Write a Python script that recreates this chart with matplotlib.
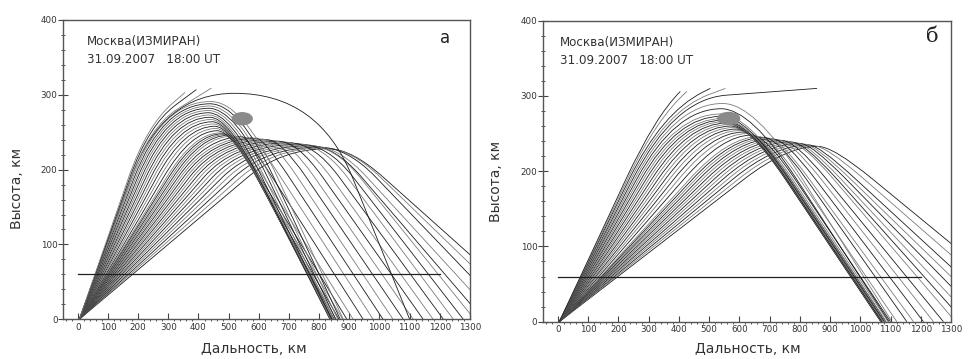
import matplotlib
matplotlib.use("Agg")
import matplotlib.pyplot as plt
from matplotlib.path import Path
from matplotlib.patches import PathPatch, Ellipse
from matplotlib.ticker import MultipleLocator

plt.rcParams['font.family'] = ['DejaVu Sans']

# ---------------- data: panel a ----------------
a_up   = [0.34, 0.355, 0.37, 0.385, 0.40, 0.415, 0.43, 0.445, 0.46, 0.475, 0.49, 0.505,
          0.52, 0.535, 0.55, 0.565, 0.58, 0.595, 0.61, 0.625, 0.64, 0.655,
          0.68, 0.71, 0.74, 0.77, 0.80, 0.83, 0.86, 0.89, 0.92, 0.95, 0.98, 1.01, 1.04, 1.07,
          1.10]
a_top  = [228, 229, 230, 231, 232, 233, 234, 235, 236, 237, 238, 239,
          240, 241, 242, 243, 244, 245, 246, 247, 248, 249,
          252, 255, 258, 261, 264, 267, 270, 273, 276, 279, 282, 285, 288, 291,
          302]
a_apx  = [830, 815, 800, 785, 770, 755, 735, 718, 700, 682, 664, 646,
          628, 610, 592, 574, 545, 515, 500, 490, 480, 470,
          462, 458, 454, 450, 446, 442, 438, 436, 434, 434, 434, 436, 438, 440,
          520]
a_land = [1540, 1490, 1440, 1390, 1345, 1315, 1278, 1245, 1212, 1178, 1145, 1112,
          1079, 1045, 1012, 979, 946, 913, 892, 878, 866, 856,
          850, 846, 843, 840, 838, 836, 836, 838, 842, 848, 855, 862, 870, 880,
          1100]
a_dn   = [0.36, 0.39, 0.42, 0.44, 0.47, 0.50, 0.52, 0.54, 0.55, 0.56, 0.57, 0.58,
          0.59, 0.60, 0.61, 0.62, 0.63, 0.64, 0.66, 0.68, 0.70, 0.72,
          0.74, 0.75, 0.76, 0.77, 0.78, 0.79, 0.80, 0.81, 0.82, 0.83, 0.84, 0.85, 0.86, 0.87,
          1.00]
a_esc_up = [1.10, 1.13, 1.16]
a_esc_x  = [443, 393, 355]
a_esc_y  = [309, 307, 303]
a_esc_m  = [0.25, 0.30, 0.35]
a_base   = 190
a_blob   = (545, 268, 66, 16)

# ---------------- data: panel b ----------------
b_up   = [0.31, 0.32, 0.33, 0.34, 0.35, 0.36, 0.37, 0.38, 0.39, 0.40, 0.41, 0.42, 0.43, 0.44,
          0.46, 0.48, 0.50, 0.52, 0.54, 0.56, 0.58, 0.60, 0.62, 0.64, 0.66, 0.68, 0.70, 0.72,
          0.74, 0.76]
b_top  = [233, 234, 235, 236, 237, 238, 239, 240, 241, 242, 243, 244, 245, 246,
          248, 250, 252, 254, 256, 258, 260, 262, 264, 266, 268, 270, 273, 276,
          283, 290]
b_apx  = [860, 845, 830, 815, 800, 785, 770, 755, 740, 725, 710, 695, 680, 665,
          640, 625, 612, 600, 590, 580, 572, 565, 558, 552, 547, 543, 540, 538,
          540, 545]
b_land = [1615, 1554, 1497, 1454, 1415, 1377, 1344, 1315, 1275, 1242, 1209, 1176, 1154, 1121,
          1100, 1092, 1085, 1080, 1076, 1072, 1070, 1068, 1068, 1070, 1072, 1076, 1080, 1086,
          1095, 1105]
b_dn   = [0.33, 0.35, 0.37, 0.39, 0.41, 0.43, 0.45, 0.47, 0.49, 0.51, 0.53, 0.55, 0.57, 0.59,
          0.60, 0.60, 0.60, 0.60, 0.60, 0.60, 0.60, 0.60, 0.60, 0.60, 0.60, 0.60, 0.60, 0.60,
          0.62, 0.64]
b_esc_up = [0.78, 0.80, 0.82, 0.84, 0.86]
b_esc_x  = [857, 554, 504, 427, 405]
b_esc_y  = [310, 310, 310, 306, 306]
b_esc_m  = [0.03, 0.15, 0.20, 0.35, 0.40]
b_base   = 190
b_blob   = (565, 270, 72, 16)

launch_x = 5
ref_height = 60
ref_x = [0, 1200]
x_ticks = list(range(0, 1301, 100))
y_ticks = list(range(0, 401, 100))

ray_colors = ['#1c1c1c', '#7c7c7c']


def ray_path(x0, s_up, top, apx, land, s_dn, base):
    B = (x0 + base / s_up, base)
    C = (x0 + top / s_up, top)
    A = (apx, top)
    D = (land - top / s_dn, top)
    E = (land - base / s_dn, base)
    verts = [(x0, 0), B, C, A, D, E, (land, 0)]
    codes = [Path.MOVETO, Path.LINETO, Path.CURVE3, Path.CURVE3,
             Path.CURVE3, Path.CURVE3, Path.LINETO]
    return Path(verts, codes)


def esc_path(x0, s, xe, ye, m, base):
    cx = (ye - m * xe + s * x0) / (s - m)
    cy = s * (cx - x0)
    B = (x0 + base / s, base)
    r = ((cx - B[0]) ** 2 + (cy - B[1]) ** 2) ** 0.5
    L = ((xe - cx) ** 2 + (ye - cy) ** 2) ** 0.5
    r = min(r, L)
    M = (cx + r * (xe - cx) / L, cy + r * (ye - cy) / L)
    verts = [(x0, 0), B, (cx, cy), M, (xe, ye)]
    codes = [Path.MOVETO, Path.LINETO, Path.CURVE3, Path.CURVE3, Path.LINETO]
    return Path(verts, codes)


def panel(ax, up, top, apx, land, dn, eu, ex, ey, em, base, blob, letter, letter_kw,
          txt_x, ylab_x, ylab_y, xlab_x, xlab_y):
    n = 0
    for i in range(len(up)):
        p = ray_path(launch_x, up[i], top[i], apx[i], land[i], dn[i], base)
        ax.add_patch(PathPatch(p, fill=False, lw=0.6, ec=ray_colors[n % 2]))
        n += 1
    for i in range(len(eu)):
        p = esc_path(launch_x, eu[i], ex[i], ey[i], em[i], base)
        ax.add_patch(PathPatch(p, fill=False, lw=0.6, ec=ray_colors[n % 2]))
        n += 1
    ax.add_patch(Ellipse((blob[0], blob[1]), blob[2], blob[3], color='#8a8a8a', zorder=3))
    ax.plot(ref_x, [ref_height, ref_height], color='#202020', lw=0.9)

    ax.set_xlim(-50, 1300)
    ax.set_ylim(0, 400)
    ax.set_xticks(x_ticks)
    ax.set_yticks(y_ticks)
    ax.xaxis.set_minor_locator(MultipleLocator(20))
    ax.yaxis.set_minor_locator(MultipleLocator(20))
    ax.tick_params(axis='x', which='major', direction='in', length=4, width=0.8,
                   labelsize=6.3, pad=2.5, colors='#444', labelcolor='#333')
    ax.tick_params(axis='x', which='minor', direction='out', length=1.5, width=0.7, colors='#555')
    ax.tick_params(axis='y', which='major', direction='inout', length=6.5, width=0.8,
                   labelsize=6.3, pad=0.5, colors='#444', labelcolor='#333')
    ax.tick_params(axis='y', which='minor', direction='inout', length=2.5, width=0.7, colors='#555')
    for sp in ax.spines.values():
        sp.set_color('#555')
        sp.set_linewidth(1.0)

    ax.set_xlabel('Дальность, км', fontsize=10, color='#333')
    ax.set_ylabel('Высота, км', fontsize=10, color='#333')
    ax.xaxis.set_label_coords(xlab_x, xlab_y)
    ax.yaxis.set_label_coords(ylab_x, ylab_y)

    ax.text(txt_x, 0.928, 'Москва(ИЗМИРАН)', transform=ax.transAxes, fontsize=8.6,
            color='#333', va='center', ha='left')
    ax.text(txt_x, 0.868, '31.09.2007   18:00 UT', transform=ax.transAxes, fontsize=8.6,
            color='#333', va='center', ha='left')
    ax.text(letter[1], letter[2], letter[0], transform=ax.transAxes, va='center',
            ha='center', color='#222', **letter_kw)


fig = plt.figure(figsize=(9.71, 3.59), dpi=100)
ax1 = fig.add_axes([0.0646, 0.1106, 0.4194, 0.8338])
ax2 = fig.add_axes([0.5589, 0.1039, 0.4205, 0.8385])

panel(ax1, a_up, a_top, a_apx, a_land, a_dn, a_esc_up, a_esc_x, a_esc_y, a_esc_m,
      a_base, a_blob, ('а', 0.939, 0.94), dict(fontsize=12),
      0.060, -0.094, 0.438, 0.47, -0.075)
panel(ax2, b_up, b_top, b_apx, b_land, b_dn, b_esc_up, b_esc_x, b_esc_y, b_esc_m,
      b_base, b_blob, ('б', 0.953, 0.947), dict(fontsize=15, family=['DejaVu Serif']),
      0.042, -0.096, 0.466, 0.503, -0.067)

fig.savefig('out.png', dpi=100)
